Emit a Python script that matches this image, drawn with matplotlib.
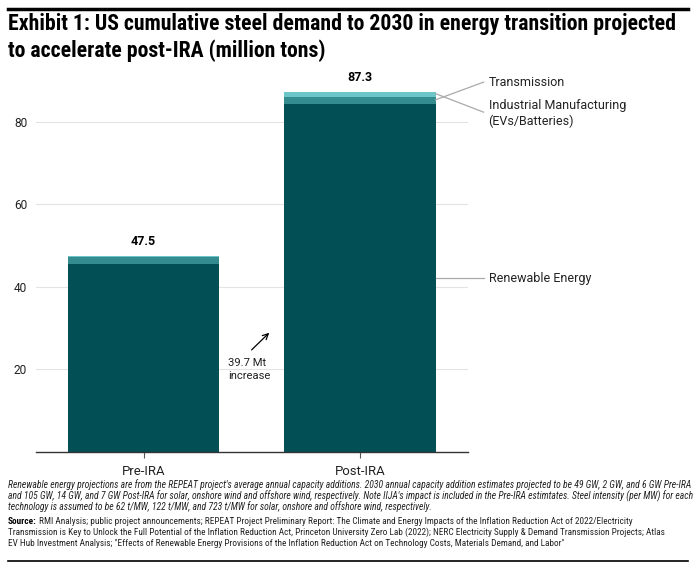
import matplotlib
matplotlib.use("Agg")
import matplotlib.pyplot as plt
from matplotlib import font_manager as fm
import numpy as np

categories = ["Pre-IRA", "Post-IRA"]
renewable = [45.6, 84.5]
industrial = [1.7, 1.6]
transmission = [0.2, 1.2]
totals = [47.5, 87.3]
yticks = [20, 40, 60, 80]

C_DARK = "#024f55"
C_MID = "#358c8f"
C_LIGHT = "#6cc5c8"
TXT = "#222222"


def pick(cands):
    for c in cands:
        ents = [f for f in fm.fontManager.ttflist if f.name == c]
        ws = {f.weight if isinstance(f.weight, int) else 0 for f in ents if f.style == "normal"}
        styles = {f.style for f in ents}
        if 400 in ws and 700 in ws and "italic" in styles:
            return c
    return "DejaVu Sans"


COND = [pick(["Roboto Condensed", "Liberation Sans Narrow", "Roboto"]), "DejaVu Sans"]
BODY = [pick(["Roboto", "Lato", "Liberation Sans"]), "DejaVu Sans"]

W, H = 696, 569
fig = plt.figure(figsize=(W/100, H/100), dpi=100)
ax = fig.add_axes([35.5/W, 1-451.5/H, (468-35.5)/W, (451.5-92)/H])

x = np.arange(len(categories))
bw = 0.7
ax.bar(x, renewable, bw, color=C_DARK, zorder=2)
b2 = np.array(renewable)
ax.bar(x, industrial, bw, bottom=b2, color=C_MID, zorder=2)
b3 = b2 + np.array(industrial)
ax.bar(x, transmission, bw, bottom=b3, color=C_LIGHT, zorder=2)

ax.set_xlim(-0.5, 1.5)
ax.set_ylim(0, 87.3)
ax.set_yticks(yticks)
ax.yaxis.grid(True, color="#e3e3e3", lw=0.8, zorder=0)
ax.set_xticks(x)
ax.set_xticklabels(categories, family=BODY, fontsize=10.5, color=TXT)
for lab in ax.get_yticklabels():
    lab.set_family(BODY); lab.set_fontsize(9.5); lab.set_color(TXT)
ax.tick_params(axis="y", length=0, pad=6)
ax.tick_params(axis="x", length=4, width=0.8, color="#555555", pad=6)
for s in ["top", "right", "left"]:
    ax.spines[s].set_visible(False)
ax.spines["bottom"].set_color("#333333")
ax.spines["bottom"].set_linewidth(1.0)

tv = []
for xi, t in zip(x, totals):
    tv.append(ax.text(xi, t + 3.4, f"{t}", ha="center", va="center", family=BODY,
                      fontsize=10, fontweight="bold", clip_on=False, color="black"))

# leader lines (Post-IRA bar, right edge)
xr = 1 + bw/2
xe = xr + 48/216
ax.plot([xr, xe], [85.4, 89.7], color="#aaaaaa", lw=0.9, clip_on=False)
ax.plot([xr, xe], [86.9, 82.4], color="#aaaaaa", lw=0.9, clip_on=False)
ax.plot([xr, xe], [42.1, 42.1], color="#aaaaaa", lw=0.9, clip_on=False)
tx = xe + 5/216
t1 = ax.text(tx, 89.6, "Transmission", va="center", ha="left", family=BODY, fontsize=10, clip_on=False, color=TXT)
t2 = ax.text(tx, 82.1, "Industrial Manufacturing\n(EVs/Batteries)", va="center", ha="left", family=BODY,
             fontsize=10, clip_on=False, linespacing=1.3, color=TXT)
t3 = ax.text(tx, 42.1, "Renewable Energy", va="center", ha="left", family=BODY, fontsize=10, clip_on=False, color=TXT)

# increase annotation
ax.annotate("", xy=(0.59, 29.3), xytext=(0.49, 24.2),
            arrowprops=dict(arrowstyle="->", color="black", lw=0.9))
ta = ax.text(0.391, 19.9, "39.7 Mt\nincrease", ha="left", va="center", family=BODY, fontsize=9, linespacing=1.35, color=TXT)

# title and rules
fig.add_artist(plt.Line2D([8/W, 688/W], [1-9/H, 1-9/H], color="black", lw=2.5))
tt = fig.text(8/W, 1-37.5/H, "Exhibit 1: US cumulative steel demand to 2030 in energy transition projected\nto accelerate post-IRA (million tons)",
              ha="left", va="center", fontsize=12.5, fontweight="bold", family=COND, linespacing=1.2)

foot = ["Renewable energy projections are from the REPEAT project's average annual capacity additions. 2030 annual capacity addition estimates projected to be 49 GW, 2 GW, and 6 GW Pre-IRA",
        "and 105 GW, 14 GW, and 7 GW Post-IRA for solar, onshore wind and offshore wind, respectively. Note IIJA's impact is included in the Pre-IRA estimtates. Steel intensity (per MW) for each",
        "technology is assumed to be 62 t/MW, 122 t/MW, and 723 t/MW for solar, onshore and offshore wind, respectively."]
foot_y = [485, 496, 507]
tfs = [fig.text(8/W, 1-yy/H, s, ha="left", va="center", fontsize=6.6, style="italic", family=COND, color=TXT)
       for s, yy in zip(foot, foot_y)]

src1 = "RMI Analysis; public project announcements; REPEAT Project Preliminary Report: The Climate and Energy Impacts of the Inflation Reduction Act of 2022/Electricity"
src = ["Transmission is Key to Unlock the Full Potential of the Inflation Reduction Act, Princeton University Zero Lab (2022); NERC Electricity Supply & Demand Transmission Projects; Atlas",
       "EV Hub Investment Analysis; \"Effects of Renewable Energy Provisions of the Inflation Reduction Act on Technology Costs, Materials Demand, and Labor\""]
src_y = [521.5, 532.5, 543.5]
ts0 = fig.text(8/W, 1-src_y[0]/H, "Source:", ha="left", va="center", fontsize=6.8, fontweight="bold", family=COND)
tss = [fig.text(8/W, 1-yy/H, s, ha="left", va="center", fontsize=6.8, family=COND, color=TXT)
       for s, yy in zip(src, src_y[1:])]
fig.add_artist(plt.Line2D([8/W, 688/W], [1-561/H, 1-561/H], color="black", lw=1.2))

# fit font sizes to the reference text widths
fig.canvas.draw()
r = fig.canvas.get_renderer()


def fit(t, wt):
    w = t.get_window_extent(r).width
    s = wt / w
    t.set_fontsize(t.get_fontsize() * s)
    return s


s_body = fit(t3, 102)
fit(tt, 669)
s_foot = fit(tfs[0], 678)
for t in tfs[1:]:
    t.set_fontsize(tfs[0].get_fontsize())
s_src = fit(tss[0], 664)
for t in tss[1:] + [ts0]:
    t.set_fontsize(tss[0].get_fontsize())
for t in [t1, t2, ta] + tv:
    t.set_fontsize(t.get_fontsize() * s_body)
for lab in ax.get_xticklabels() + ax.get_yticklabels():
    lab.set_fontsize(lab.get_fontsize() * s_body)
fig.canvas.draw()
w0 = ts0.get_window_extent(r)
fig.text((w0.x1 + 2)/W, 1-src_y[0]/H, src1, ha="left", va="center", fontsize=tss[0].get_fontsize(), family=COND, color=TXT)

fig.savefig("out.png", dpi=100)
